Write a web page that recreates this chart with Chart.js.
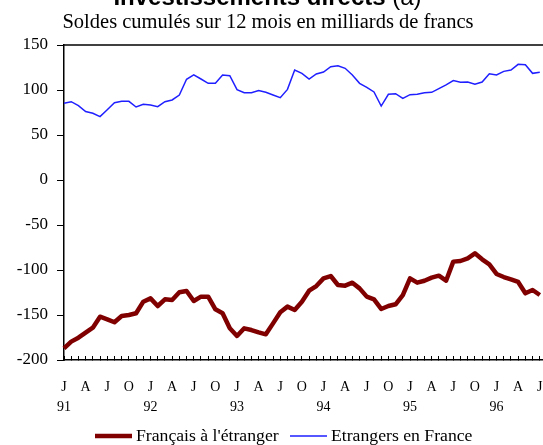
<!DOCTYPE html>
<html>
<head>
<meta charset="utf-8">
<script src="https://cdn.jsdelivr.net/npm/chart.js@4/dist/chart.umd.min.js"></script>
<style>
  html, body { margin: 0; padding: 0; background: #fff; overflow: hidden; width: 543px; height: 445px; }
  #wrap { position: relative; width: 547px; height: 445px; }
</style>
</head>
<body>
<div id="wrap"><canvas id="c"></canvas></div>
<script>
// ---- Data ----
const categories = [
  '1991-01','1991-02','1991-03','1991-04','1991-05','1991-06','1991-07','1991-08','1991-09','1991-10','1991-11','1991-12',
  '1992-01','1992-02','1992-03','1992-04','1992-05','1992-06','1992-07','1992-08','1992-09','1992-10','1992-11','1992-12',
  '1993-01','1993-02','1993-03','1993-04','1993-05','1993-06','1993-07','1993-08','1993-09','1993-10','1993-11','1993-12',
  '1994-01','1994-02','1994-03','1994-04','1994-05','1994-06','1994-07','1994-08','1994-09','1994-10','1994-11','1994-12',
  '1995-01','1995-02','1995-03','1995-04','1995-05','1995-06','1995-07','1995-08','1995-09','1995-10','1995-11','1995-12',
  '1996-01','1996-02','1996-03','1996-04','1996-05','1996-06','1996-07','1996-08'
];
const francaisEtranger = [
  -187, -179.6, -175.2, -169.6, -164.1, -151.9, -154.8, -158.1, -151.1, -150, -148.1, -135.2,
  -131.5, -140, -132.6, -133.3, -124.8, -123.3, -134.4, -129.6, -129.6, -143.7, -148.1, -164.8,
  -173.3, -164.8, -166.7, -169.3, -171.5, -159.3, -147, -140.7, -144.4, -135.2, -123, -117.8,
  -109.3, -106.7, -116.7, -117.4, -114.1, -120.4, -129.6, -132.6, -143.3, -140, -138.1, -127.8,
  -109.3, -114.1, -111.9, -108.5, -106.3, -111.9, -90.7, -90, -87, -81.5, -88.1, -93.7,
  -104.4, -107.8, -110.4, -113.3, -125.9, -122.2, -127.8
];
const etrangersFrance = [
  85.2, 87, 82.6, 76, 74.1, 70.4, 78.1, 85.9, 87.4, 87.4, 81.1, 84.1,
  83.3, 81.5, 87, 88.9, 94.4, 111.9, 116.7, 112.2, 107.4, 107.4, 116.7, 115.9,
  100.4, 97, 97, 99.3, 97.4, 94.4, 91.5, 100.7, 122.2, 118.5, 112.2, 117.8,
  120, 125.9, 127, 124.1, 116.7, 107.4, 103, 97.8, 82.2, 95.2, 95.9, 90.7,
  94.8, 95.2, 97, 97.4, 101.5, 105.6, 110.4, 108.5, 108.9, 106.3, 108.9, 118.1,
  116.7, 120.7, 122.2, 128.5, 128.1, 118.5, 119.6
];
const quarterLetters = ['J', 'A', 'J', 'O'];
const yearLabels = ['91', '92', '93', '94', '95', '96'];
const yTicks = [-200, -150, -100, -50, 0, 50, 100, 150];
const seriesNames = ["Français à l'étranger", 'Etrangers en France'];
const titleMain = 'Investissements directs';
const titleNote = ' (a)';
const subtitleText = 'Soldes cumulés sur 12 mois en milliards de francs';

const SERIF = "'Liberation Serif', 'Times New Roman', serif";
const SANS = "'Liberation Sans', Arial, sans-serif";
const RED = '#800000';
const BLUE = '#1f1fff';

const decor = {
  id: 'decor',
  afterDraw(chart) {
    const ctx = chart.ctx;
    const a = chart.chartArea;
    ctx.save();
    // top frame line
    ctx.strokeStyle = '#000';
    ctx.lineWidth = 1.5;
    ctx.beginPath();
    ctx.moveTo(a.left, a.top);
    ctx.lineTo(a.right, a.top);
    ctx.stroke();
    // title (cropped at top like the reference)
    ctx.fillStyle = '#000';
    ctx.textBaseline = 'alphabetic';
    ctx.font = 'bold 24px ' + SANS;
    const w1 = ctx.measureText(titleMain).width;
    ctx.font = '24px ' + SANS;
    const w2 = ctx.measureText(titleNote).width;
    const x0 = 267.5 - (w1 + w2) / 2;
    ctx.textAlign = 'left';
    ctx.font = 'bold 24px ' + SANS;
    ctx.fillText(titleMain, x0, 5);
    ctx.font = '24px ' + SANS;
    ctx.fillText(titleNote, x0 + w1, 5);
    // subtitle
    ctx.font = '20.5px ' + SERIF;
    ctx.textAlign = 'center';
    ctx.fillText(subtitleText, 268, 27.5);

    // legend, built from the datasets
    const legendY = 436;
    const starts = [95, 290];
    ctx.font = '17.7px ' + SERIF;
    ctx.textAlign = 'left';
    ctx.textBaseline = 'middle';
    chart.data.datasets.forEach((ds, i) => {
      const x = starts[i];
      ctx.strokeStyle = ds.borderColor;
      ctx.lineWidth = ds.borderWidth;
      ctx.lineCap = 'butt';
      ctx.beginPath();
      ctx.moveTo(x, legendY);
      ctx.lineTo(x + 37, legendY);
      ctx.stroke();
      ctx.fillStyle = '#000';
      ctx.fillText(ds.label, x + 41, legendY);
    });
    ctx.restore();
  }
};

new Chart(document.getElementById('c'), {
  type: 'line',
  data: {
    labels: categories,
    datasets: [
      {
        label: seriesNames[0],
        data: francaisEtranger,
        borderColor: RED,
        backgroundColor: RED,
        borderWidth: 4.5,
        borderJoinStyle: 'round',
        pointRadius: 0,
        tension: 0
      },
      {
        label: seriesNames[1],
        data: etrangersFrance,
        borderColor: BLUE,
        backgroundColor: BLUE,
        borderWidth: 1.5,
        pointRadius: 0,
        tension: 0
      }
    ]
  },
  options: {
    responsive: true,
    maintainAspectRatio: false,
    animation: false,
    devicePixelRatio: 1,
    layout: { padding: { top: 45, right: 0, bottom: 0, left: 0 } },
    plugins: {
      title: { display: false },
      tooltip: { enabled: false },
      legend: { display: false }
    },
    scales: {
      x: {
        type: 'category',
        offset: false,
        grid: {
          display: true,
          drawOnChartArea: false,
          drawTicks: true,
          tickLength: -4,
          tickColor: '#000',
          tickWidth: 1
        },
        border: { display: true, color: '#000', width: 1.5 },
        ticks: {
          autoSkip: false,
          maxRotation: 0,
          minRotation: 0,
          padding: 21,
          color: '#000',
          font: { family: SERIF, size: 14, lineHeight: 1.45 },
          callback(value, index) {
            if (index % 3 !== 0) return '';
            const letter = quarterLetters[(index / 3) % 4];
            if (index % 12 === 0) return [letter, yearLabels[index / 12]];
            return letter;
          }
        },
        afterFit(scale) {
          scale.height = 85;
          scale.paddingLeft = 0;
          scale.paddingRight = 0;
        }
      },
      y: {
        min: -200,
        max: 150,
        grid: {
          display: true,
          drawOnChartArea: false,
          drawTicks: true,
          tickLength: 7,
          tickColor: '#000',
          tickWidth: 1
        },
        border: { display: true, color: '#000', width: 1.5 },
        afterBuildTicks(scale) {
          scale.ticks = yTicks.map(v => ({ value: v }));
        },
        ticks: {
          padding: 9,
          color: '#000',
          font: { family: SERIF, size: 17 }
        },
        afterFit(scale) {
          scale.width = 64;
        }
      }
    }
  },
  plugins: [decor]
});
</script>
</body>
</html>
